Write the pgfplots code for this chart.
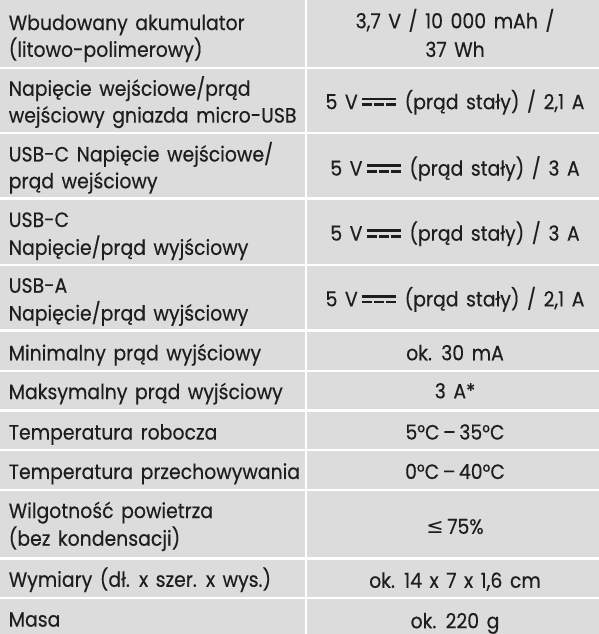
\documentclass[border=0pt]{standalone}
\usepackage{pgfplots}
\pgfplotsset{compat=1.18}
\usepackage{fontspec}
\setmainfont[FakeStretch=0.91,WordSpace=1.5,FakeBold=0.35]{Poppins}
\newfontfamily\dejavu{DejaVu Sans}
\definecolor{cellgray}{HTML}{DCDCDC}
\definecolor{txt}{HTML}{1E1E1E}
\newcommand\dc{\kern4pt\rlap{\raisebox{8.7pt}{\rule{34pt}{2.7pt}}}\raisebox{3pt}{\rule{10pt}{2.7pt}\kern2pt\rule{10pt}{2.7pt}\kern2pt\rule{10pt}{2.7pt}}\kern1pt}
\newcommand\row[2]{\fill[cellgray] (axis cs:5,#1) rectangle (axis cs:306.3,#2);
  \fill[cellgray] (axis cs:308.7,#1) rectangle (axis cs:597,#2);}
\newcommand\lt[2]{\node[anchor=base west] at (axis cs:13.5,#1) {#2};}
\newcommand\rt[2]{\node[anchor=base] at (axis cs:455,#1) {#2};}
\begin{document}
\begin{tikzpicture}[every node/.style={inner sep=0pt, text=txt, font=\fontsize{20.5}{24}\selectfont}]
\begin{axis}[width=597pt,height=634pt,scale only axis,
  xmin=0,xmax=597,ymin=0,ymax=634,y dir=reverse,hide axis,clip=false]
\row{7}{72.8}
\row{75.2}{137.3}
\row{139.7}{202.3}
\row{204.7}{267.8}
\row{270.2}{332.8}
\row{335.2}{372.8}
\row{375.2}{411.8}
\row{414.2}{450.8}
\row{453.2}{490.3}
\row{492.7}{558.3}
\row{560.7}{597.3}
\row{599.7}{634}
% left column
\lt{36.7}{Wbudowany akumulator}
\lt{63.2}{(litowo-polimerowy)}
\lt{101.7}{Napięcie wejściowe/prąd}
\lt{128.2}{wejściowy gniazda micro-USB}
\lt{166.7}{USB-C Napięcie wejściowe/}
\lt{193.2}{prąd wejściowy}
\lt{231.5}{USB-C}
\lt{259}{Napięcie/prąd wyjściowy}
\lt{296.5}{USB-A}
\lt{324}{Napięcie/prąd wyjściowy}
\lt{363.3}{Minimalny prąd wyjściowy}
\lt{401.7}{Maksymalny prąd wyjściowy}
\lt{441.7}{Temperatura robocza}
\lt{480.7}{Temperatura przechowywania}
\lt{519.3}{Wilgotność powietrza}
\lt{546.7}{(bez kondensacji)}
\lt{587.3}{Wymiary (dł. x szer. x wys.)}
\lt{626.7}{Masa}
% right column
\rt{35}{3,7 V / 10 000 mAh /}
\rt{63.3}{37 Wh}
\rt{115}{5 V\dc{} (prąd stały) / 2,1 A}
\rt{180.7}{5 V\dc{} (prąd stały) / 3 A}
\rt{245}{5 V\dc{} (prąd stały) / 3 A}
\rt{310}{5 V\dc{} (prąd stały) / 2,1 A}
\rt{363.3}{ok. 30 mA}
\rt{401}{3 A*}
\rt{441.7}{5°C\,–\,35°C}
\rt{480.7}{0°C\,–\,40°C}
\rt{535}{{\dejavu ≤}\,75\%}
\rt{588.3}{ok. 14 x 7 x 1,6 cm}
\rt{628.3}{ok. 220 g}
\end{axis}
\end{tikzpicture}
\end{document}
